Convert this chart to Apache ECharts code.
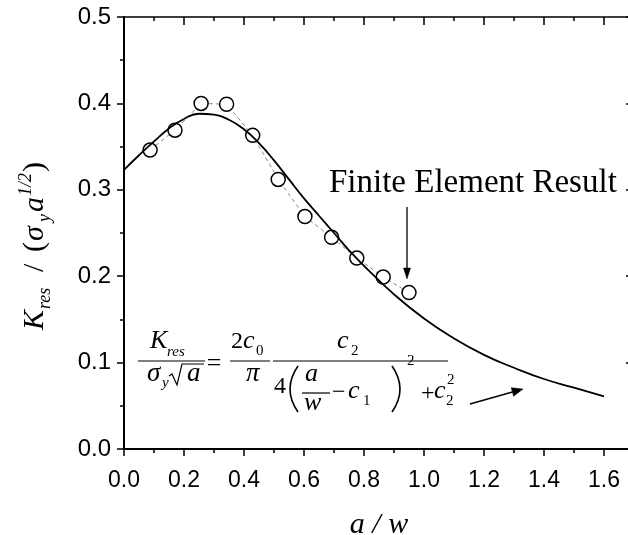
<!DOCTYPE html>
<html>
<head>
<meta charset="utf-8">
<script src="https://cdn.jsdelivr.net/npm/echarts@6/dist/echarts.min.js"></script>
<style>
html,body{margin:0;padding:0;background:#fff;}
#chart{width:628px;height:535px;}
</style>
</head>
<body>
<div id="chart"></div>
<script>
// Finite element results (circles)
const feX = [0.087, 0.170, 0.257, 0.342, 0.429, 0.514, 0.603, 0.692, 0.776, 0.864, 0.950];
const feY = [0.346, 0.369, 0.400, 0.399, 0.363, 0.312, 0.269, 0.245, 0.221, 0.199, 0.181];
// Fitted curve
const fitX = [0.0, 0.05, 0.1, 0.15, 0.2, 0.25, 0.3, 0.35, 0.4, 0.45, 0.5, 0.55, 0.6, 0.65, 0.7, 0.75, 0.8, 0.9, 1.0, 1.1, 1.2, 1.3, 1.4, 1.5, 1.6];
const fitY = [0.323, 0.340, 0.356, 0.371, 0.382, 0.388, 0.387, 0.381, 0.370, 0.354, 0.334, 0.312, 0.290, 0.270, 0.250, 0.230, 0.212, 0.179, 0.151, 0.128, 0.109, 0.094, 0.081, 0.071, 0.061];
// Axis settings
const xRange = [0, 1.7];
const yRange = [0, 0.5];
const xStep = 0.2;
const yStep = 0.1;
const xTitle = 'a / w';
const noteText = 'Finite Element Result';

const feData = feX.map((x, i) => [x, feY[i]]);
const fitData = fitX.map((x, i) => [x, fitY[i]]);

const BLACK = '#000';
const serif = "'Liberation Serif', 'Times New Roman', serif";

function t(x, base, str, size, italic, align) {
  return {
    type: 'text', x: x, y: base - 0.34 * size, z: 100,
    style: {
      text: str, fill: BLACK,
      font: (italic ? 'italic ' : '') + size + 'px ' + serif,
      align: align || 'left', verticalAlign: 'middle',
      textAlign: align || 'left', textVerticalAlign: 'middle'
    }
  };
}
function ln(x1, y1, x2, y2, w) {
  return { type: 'line', z: 100, shape: { x1, y1, x2, y2 }, style: { stroke: BLACK, lineWidth: w || 1.2 } };
}
function tri(pts) {
  return { type: 'polygon', z: 100, shape: { points: pts }, style: { fill: BLACK, stroke: BLACK, lineWidth: 0.5 } };
}
function curve(x1, y1, cx, cy, x2, y2) {
  return { type: 'bezierCurve', z: 100, shape: { x1, y1, x2, y2, cpx1: cx, cpy1: cy }, style: { stroke: BLACK, lineWidth: 1.6, fill: null } };
}

// rotated y-axis title: K_res / (σ_y a^{1/2})
const yTitle = {
  type: 'group', x: 45, y: 330, rotation: Math.PI / 2,
  children: [
    t(0, 0, 'K', 30, true),
    t(21, 6, 'res', 18, true),
    t(58, 0, '/', 30, false),
    t(78, 0, '(', 30, false),
    t(89, 0, 'σ', 30, true),
    t(108, 6, 'y', 18, true),
    t(118, 0, 'a', 30, true),
    t(134, -13, '1/2', 18, true),
    t(158, 0, ')', 30, false)
  ]
};

const formula = [
  t(150, 350, 'K', 26, true),
  t(167, 357, 'res', 15, true),
  ln(138, 361, 205, 361),
  t(147, 383, 'σ', 27, true),
  t(162, 388, 'y', 15, true),
  { type: 'polyline', z: 100, shape: { points: [[169, 376], [172, 374], [177, 385], [182, 364], [204, 364]] }, style: { stroke: BLACK, lineWidth: 1.2, fill: null } },
  t(187, 383, 'a', 27, true),
  t(214, 373, '=', 26, false, 'center'),
  t(231, 350, '2', 24, false),
  t(243, 350, 'c', 26, true),
  t(256, 356, '0', 15, false),
  ln(230, 361, 270, 361),
  t(246, 383, 'π', 27, true),
  t(337, 350, 'c', 26, true),
  t(351, 356, '2', 15, false),
  ln(273, 361, 448, 361),
  t(274, 395, '4', 24, false),
  curve(298, 366, 282, 389, 298, 412),
  t(305, 383, 'a', 26, true),
  ln(302, 393, 330, 393),
  t(304, 412, 'w', 26, true),
  t(332, 401, '−', 24, false),
  t(348, 400, 'c', 26, true),
  t(363, 406, '1', 15, false),
  curve(392, 366, 408, 389, 392, 412),
  t(407, 366, '2', 15, false),
  t(421, 402, '+', 24, false),
  t(434, 400, 'c', 26, true),
  t(446, 406, '2', 15, false),
  t(447, 385, '2', 15, false)
];

const annotations = [
  t(329, 195, noteText, 33, false),
  ln(407, 207, 407, 270, 1.3),
  tri([[407, 279], [403.5, 268], [410.5, 268]]),
  ln(470, 404, 512.4, 392, 1.3),
  tri([[523, 389], [513.6, 396.3], [511.2, 387.7]])
];

const tickStyle = { color: BLACK, width: 1.5 };
const axisLineStyle = { color: BLACK, width: 2 };

const option = {
  animation: false,
  backgroundColor: '#fff',
  grid: { left: 124, top: 17, width: 510, height: 432, containLabel: false, outerBoundsMode: 'none' },
  xAxis: [
    {
      type: 'value', position: 'bottom', min: xRange[0], max: xRange[1], interval: xStep,
      axisLine: { show: true, onZero: false, lineStyle: axisLineStyle },
      axisTick: { show: true, inside: false, length: 7, lineStyle: tickStyle },
      minorTick: { show: true, splitNumber: 2, length: 4, lineStyle: tickStyle },
      splitLine: { show: false }, minorSplitLine: { show: false },
      axisLabel: { color: BLACK, fontSize: 23, fontFamily: "'Liberation Sans', Arial, sans-serif", margin: 20, showMaxLabel: false, formatter: v => v.toFixed(1) },
      name: xTitle, nameLocation: 'middle', nameGap: 61,
      nameTextStyle: { color: BLACK, fontSize: 30, fontStyle: 'italic', fontFamily: serif }
    },
    {
      type: 'value', position: 'top', min: xRange[0], max: xRange[1], interval: xStep,
      axisLine: { show: true, onZero: false, lineStyle: { color: BLACK, width: 1.5 } },
      axisTick: { show: true, inside: true, length: 8, lineStyle: tickStyle },
      minorTick: { show: true, splitNumber: 2, length: 4, lineStyle: tickStyle },
      splitLine: { show: false }, axisLabel: { show: false }
    }
  ],
  yAxis: [
    {
      type: 'value', position: 'left', min: yRange[0], max: yRange[1], interval: yStep,
      axisLine: { show: true, onZero: false, lineStyle: axisLineStyle },
      axisTick: { show: true, inside: false, length: 7, lineStyle: tickStyle },
      minorTick: { show: true, splitNumber: 2, length: 4, lineStyle: tickStyle },
      splitLine: { show: false }, minorSplitLine: { show: false },
      axisLabel: { color: BLACK, fontSize: 24, fontFamily: "'Liberation Sans', Arial, sans-serif", margin: 13, formatter: v => v.toFixed(1) }
    },
    {
      type: 'value', position: 'right', min: yRange[0], max: yRange[1], interval: yStep,
      axisLine: { show: true, onZero: false, lineStyle: { color: BLACK, width: 1.5 } },
      axisTick: { show: true, inside: true, length: 8, lineStyle: tickStyle },
      minorTick: { show: true, splitNumber: 2, length: 4, lineStyle: tickStyle },
      splitLine: { show: false }, axisLabel: { show: false }
    }
  ],
  series: [
    {
      name: 'Finite Element Result', type: 'line', data: feData,
      xAxisIndex: 0, yAxisIndex: 0, z: 2,
      lineStyle: { color: '#8a8a8a', width: 1, type: [4, 3] },
      symbol: 'circle', symbolSize: 14, showSymbol: true,
      itemStyle: { color: '#fff', borderColor: BLACK, borderWidth: 1.5 }
    },
    {
      name: 'Fit', type: 'line', data: fitData, smooth: 0.5,
      xAxisIndex: 0, yAxisIndex: 0, z: 3,
      symbol: 'none', lineStyle: { color: BLACK, width: 1.8 }
    }
  ],
  graphic: { elements: [yTitle].concat(formula, annotations) }
};

const chart = echarts.init(document.getElementById('chart'), null, { renderer: 'canvas' });
chart.setOption(option);
</script>
</body>
</html>
